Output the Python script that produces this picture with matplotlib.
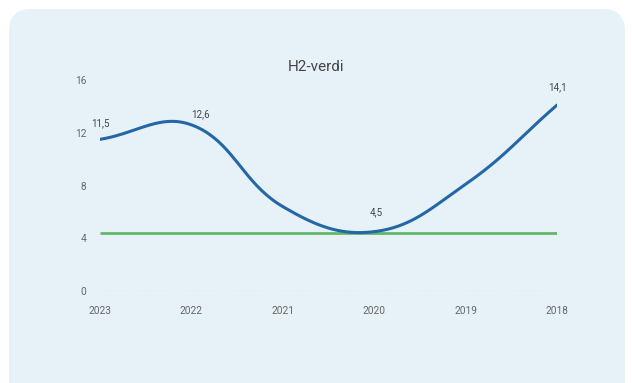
import numpy as np
import matplotlib.pyplot as plt
from matplotlib.patches import FancyBboxPatch

years = ['2023', '2022', '2021', '2020', '2019', '2018']
values = [11.5, 12.6, 6.4, 4.5, 8.1, 14.1]
labels = ['11,5', '12,6', '', '4,5', '', '14,1']
target = [4.4, 4.4, 4.4, 4.4, 4.4, 4.4]
y_ticks = [0, 4, 8, 12, 16]


def spline_path(xs, ys, tension=0.4, sx=91.4, sy=13.2, n=40):
    # chart.js style bezier smoothing, distances taken in pixel units
    px = np.array(xs, float)
    py = np.array(ys, float)
    m = len(px)
    cp_prev = []
    cp_next = []
    for i in range(m):
        p0 = (px[max(i - 1, 0)], py[max(i - 1, 0)])
        p1 = (px[i], py[i])
        p2 = (px[min(i + 1, m - 1)], py[min(i + 1, m - 1)])
        d01 = np.hypot((p1[0] - p0[0]) * sx, (p1[1] - p0[1]) * sy)
        d12 = np.hypot((p2[0] - p1[0]) * sx, (p2[1] - p1[1]) * sy)
        tot = d01 + d12
        fa = tension * d01 / tot if tot else 0
        fb = tension * d12 / tot if tot else 0
        cp_prev.append((p1[0] - fa * (p2[0] - p0[0]), p1[1] - fa * (p2[1] - p0[1])))
        cp_next.append((p1[0] + fb * (p2[0] - p0[0]), p1[1] + fb * (p2[1] - p0[1])))
    t = np.linspace(0, 1, n)
    out_x, out_y = [], []
    for i in range(m - 1):
        a = (px[i], py[i])
        b = cp_next[i]
        c = cp_prev[i + 1]
        d = (px[i + 1], py[i + 1])
        bx = (1 - t)**3 * a[0] + 3 * (1 - t)**2 * t * b[0] + 3 * (1 - t) * t**2 * c[0] + t**3 * d[0]
        by = (1 - t)**3 * a[1] + 3 * (1 - t)**2 * t * b[1] + 3 * (1 - t) * t**2 * c[1] + t**3 * d[1]
        out_x.extend(bx)
        out_y.extend(by)
    return np.array(out_x), np.array(out_y)


plt.rcParams['font.family'] = ['Roboto', 'DejaVu Sans']

fig = plt.figure(figsize=(6.32, 3.83), dpi=100)
fig.patch.set_facecolor('white')

W, H = 632, 383
card = FancyBboxPatch((9 / W, -0.1), (616 / W), (374 / H) + 0.1,
                      boxstyle='round,pad=0,rounding_size=0.035',
                      transform=fig.transFigure, facecolor='#e7f2f8',
                      edgecolor='none', mutation_aspect=W / H, zorder=-10)
fig.patches.append(card)

ax = fig.add_axes([100 / W, (H - 291) / H, 457 / W, 211 / H])
ax.set_facecolor('none')

x = np.arange(len(years))
sx, sy = spline_path(x, values)
ax.plot(x, target, color='#62b86a', linewidth=2.0, solid_capstyle='butt', zorder=2)
ax.plot(sx, sy, color='#2467a6', linewidth=2.2, solid_capstyle='round', zorder=3)
ax.axhline(0, color='#c3cdd2', linewidth=0.9, linestyle=(0, (1.5, 2)), zorder=1)

offsets = [(0, 11.5), (6.5, 7.5), (0, 0), (1.5, 14), (0, 0), (0, 13)]
for i, lab in enumerate(labels):
    if lab:
        ax.annotate(lab, (x[i], values[i]), xytext=offsets[i], textcoords='offset points',
                    ha='center', va='center', fontsize=7, color='#444444')

ax.set_xlim(0, len(years) - 1)
ax.set_ylim(0, 16)
ax.set_xticks(x)
ax.set_xticklabels(years)
ax.set_yticks(y_ticks)
ax.tick_params(axis='both', length=0, labelsize=7.3, colors='#666666')
ax.tick_params(axis='y', pad=10)
ax.tick_params(axis='x', pad=11)
for s in ax.spines.values():
    s.set_visible(False)
ax.set_zorder(5)

fig.text(316 / W, (H - 67) / H, 'H2-verdi', ha='center', va='center',
         fontsize=11, color='#444444')

fig.savefig('out.png', dpi=100, facecolor='white')
